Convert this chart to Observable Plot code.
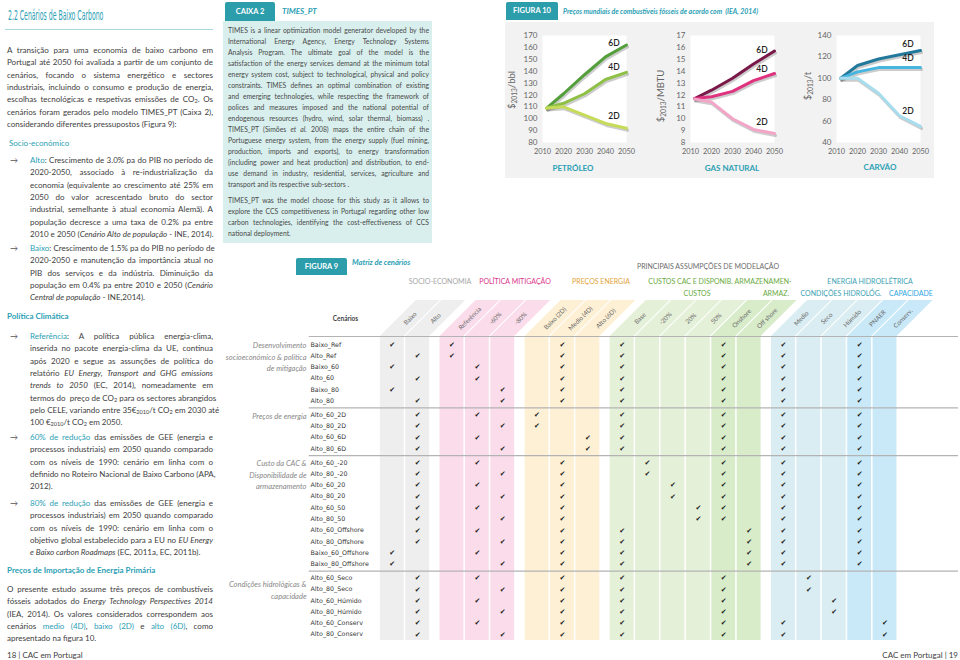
<!DOCTYPE html>
<html><head><meta charset="utf-8">
<script src="https://cdn.jsdelivr.net/npm/d3@7"></script>
<script src="https://cdn.jsdelivr.net/npm/@observablehq/plot@0.6"></script>
<style>
body{margin:0;background:#fff;}
#page{position:relative;width:960px;height:660px;overflow:hidden;font-family:Lato,"Noto Sans",sans-serif;color:#404040;background:#fff;}
.abs{position:absolute;white-space:nowrap;}
.ln{position:absolute;text-align:justify;white-space:nowrap;}
.t{color:#2ba0b4;}
i{font-style:italic;}
sub{font-size:70%;vertical-align:-0.25em;line-height:0;}
.tab{position:absolute;background:#2b9dab;color:#fff;font-weight:bold;font-size:7.5px;text-align:center;border-radius:2px 2px 0 0;}
.plotbox{position:absolute;}
</style></head>
<body><div id="page"></div>
<script>
// ---------- DATA: Figura 10 ----------
const years = [2012, 2020, 2030, 2040, 2050];
const scenarios = ["6D", "4D", "2D"];
const petroleo6D = [109, 121, 137, 152, 162];
const petroleo4D = [109, 113, 121, 133, 139];
const petroleo2D = [109, 110, 103, 96, 92];
const gas6D = [11.7, 12.4, 13.4, 14.6, 15.7];
const gas4D = [11.7, 11.85, 12.3, 13.2, 13.8];
const gas2D = [11.65, 11.4, 10.0, 9.1, 8.75];
const carvao6D = [100, 112, 118, 122, 126];
const carvao4D = [100, 106, 110, 110, 110];
const carvao2D = [100, 100, 86, 65, 55];
const xTicks = [2010, 2020, 2030, 2040, 2050];
const petroleoTicks = [80, 90, 100, 110, 120, 130, 140, 150, 160, 170];
const gasTicks = [8, 9, 10, 11, 12, 13, 14, 15, 16, 17];
const carvaoTicks = [40, 60, 80, 100, 120, 140];

// ---------- DATA: Figura 9 ----------
const columns = ["Baixo", "Alto", "Referência", "-60%", "-80%", "Baixo (2D)", "Medio (4D)", "Alto (6D)",
  "Base", "-20%", "20%", "50%", "Onshore", "Off shore", "Medio", "Seco", "Húmido", "PNAER", "Conserv."];
const columnGroup = [0, 0, 1, 1, 1, 2, 2, 2, 3, 3, 3, 3, 3, 3, 4, 4, 4, 4, 4];
const scenarioNames = ["Baixo_Ref", "Alto_Ref", "Baixo_60", "Alto_60", "Baixo_80", "Alto_80",
  "Alto_60_2D", "Alto_80_2D", "Alto_60_6D", "Alto_80_6D",
  "Alto_60_-20", "Alto_80_-20", "Alto_60_20", "Alto_80_20", "Alto_60_50", "Alto_80_50",
  "Alto_60_Offshore", "Alto_80_Offshore", "Baixo_60_Offshore", "Baixo_80_Offshore",
  "Alto_60_Seco", "Alto_80_Seco", "Alto_60_Húmido", "Alto_80_Húmido", "Alto_60_Conserv", "Alto_80_Conserv"];
const scenarioGroup = [0,0,0,0,0,0, 1,1,1,1, 2,2,2,2,2,2,2,2,2,2, 3,3,3,3,3,3];
const rowGroupLabels = ["Desenvolvimento\nsocioeconómico & política\nde mitigação", "Preços de energia",
  "Custo da CAC &\nDisponibilidade de\narmazenamento", "Condições hidrológicas &\ncapacidade"];
const rowGroupCenter = [1, 6, 11, 21];
const checks = [
  [0,2,6,8,12,14,17],[1,2,6,8,12,14,17],[0,3,6,8,12,14,17],[1,3,6,8,12,14,17],[0,4,6,8,12,14,17],[1,4,6,8,12,14,17],
  [1,3,5,8,12,14,17],[1,4,5,8,12,14,17],[1,3,7,8,12,14,17],[1,4,7,8,12,14,17],
  [1,3,6,9,12,14,17],[1,4,6,9,12,14,17],[1,3,6,10,12,14,17],[1,4,6,10,12,14,17],[1,3,6,11,12,14,17],[1,4,6,11,12,14,17],
  [1,3,6,8,13,14,17],[1,4,6,8,13,14,17],[0,3,6,8,13,14,17],[0,4,6,8,13,14,17],
  [1,3,6,8,12,15],[1,4,6,8,12,15],[1,3,6,8,12,16],[1,4,6,8,12,16],[1,3,6,8,12,14,18],[1,4,6,8,12,14,18]
];

// ---------- helpers ----------
const page = document.getElementById("page");
function put(html, x, y, style = {}, anchor = "start", lh = 10) {
  const d = document.createElement("div");
  d.className = "abs"; d.innerHTML = html;
  Object.assign(d.style, {left: x + "px", top: (y - lh / 2) + "px", lineHeight: lh + "px"}, style);
  if (anchor === "middle") d.style.transform = "translateX(-50%)";
  if (anchor === "end") d.style.transform = "translateX(-100%)";
  page.appendChild(d); return d;
}
function para(lines, x, y, w, lh, style = {}) {
  lines.forEach((l, i) => {
    const d = document.createElement("div");
    d.className = "ln"; d.innerHTML = l;
    Object.assign(d.style, {left: x + "px", top: (y + i * lh - lh / 2) + "px", width: w + "px",
      height: lh + "px", lineHeight: lh + "px", textAlignLast: i === lines.length - 1 ? "left" : "justify"}, style);
    page.appendChild(d);
  });
}
function box(x, y, w, h, style) {
  const d = document.createElement("div");
  Object.assign(d.style, {position: "absolute", left: x + "px", top: y + "px", width: w + "px", height: h + "px"}, style);
  page.appendChild(d); return d;
}
function place(node, x, y) {
  const w = document.createElement("div"); w.className = "plotbox";
  w.style.left = x + "px"; w.style.top = y + "px"; w.appendChild(node); page.appendChild(w);
}

// ---------- left column ----------
put("2.2 Cenários de Baixo Carbono", 8, 15, {fontFamily: "'DejaVu Sans Condensed','DejaVu Sans',sans-serif", fontSize: "14px", color: "#2ba0b4", transformOrigin: "left center", transform: "scaleX(0.49)"}, "start", 16);
box(5, 29, 208, 1, {background: "#a9d8df"});
const fs = {fontSize: "8px"};
para(["A transição para uma economia de baixo carbono em",
  "Portugal até 2050 foi avaliada a partir de um conjunto de",
  "cenários, focando o sistema energético e sectores",
  "industriais, incluindo o consumo e produção de energia,",
  "escolhas tecnológicas e respetivas emissões de CO<sub>2</sub>. Os",
  "cenários foram gerados pelo modelo TIMES_PT (Caixa 2),",
  "considerando diferentes pressupostos (Figura 9):"], 7, 50, 206, 12.35, fs);
put("Socio-económico", 9, 143, {fontSize: "8px", color: "#2ba0b4"});
const arrow = {fontSize: "8px", color: "#555"};
put("→", 10, 160, arrow);
para(["<span class='t'>Alto</span>: Crescimento de 3.0% pa do PIB no período de",
  "2020-2050, associado à re-industrialização da",
  "economia (equivalente ao crescimento até 25% em",
  "2050 do valor acrescentado bruto do sector",
  "industrial, semelhante à atual economia Alemã). A",
  "população decresce a uma taxa de 0.2% pa entre",
  "2010 e 2050 (<i>Cenário Alto de população</i> - INE, 2014)."], 30, 160, 183, 12.35, fs);
put("→", 10, 248, arrow);
para(["<span class='t'>Baixo</span>: Crescimento de 1.5% pa do PIB no período de",
  "2020-2050 e manutenção da importância atual no",
  "PIB dos serviços e da indústria. Diminuição da",
  "população em 0.4% pa entre 2010 e 2050 (<i>Cenário</i>",
  "<i>Central de população</i> - INE,2014)."], 30, 248, 183, 12.35, fs);
put("Política Climática", 7, 316, {fontSize: "8px", color: "#2ba0b4", fontWeight: "bold"});
put("→", 10, 336, arrow);
para(["<span class='t'>Referência</span>: A política pública energia-clima,",
  "inserida no pacote energia-clima da UE, continua",
  "após 2020 e segue as assunções de política do",
  "relatório <i>EU Energy, Transport and GHG emissions</i>",
  "<i>trends to 2050</i> (EC, 2014), nomeadamente em",
  "termos do&nbsp; preço de CO<sub>2</sub> para os sectores abrangidos",
  "pelo CELE, variando entre 35€<sub>2010</sub>/t CO<sub>2</sub> em 2030 até",
  "100 €<sub>2010</sub>/t CO<sub>2</sub> em 2050."], 30, 336, 183, 12.35, fs);
put("→", 10, 437, arrow);
para(["<span class='t'>60% de redução</span> das emissões de GEE (energia e",
  "processos industriais) em 2050 quando comparado",
  "com os níveis de 1990: cenário em linha com o",
  "definido no Roteiro Nacional de Baixo Carbono (APA,",
  "2012)."], 30, 437, 183, 12.35, fs);
put("→", 10, 503, arrow);
para(["<span class='t'>80% de redução</span> das emissões de GEE (energia e",
  "processos industriais) em 2050 quando comparado",
  "com os níveis de 1990: cenário em linha com o",
  "objetivo global estabelecido para a EU no <i>EU Energy</i>",
  "<i>e Baixo carbon Roadmaps</i> (EC, 2011a, EC, 2011b)."], 30, 503, 183, 12.35, fs);
put("Preços de Importação de Energia Primária", 7, 570, {fontSize: "8px", color: "#2ba0b4", fontWeight: "bold"});
para(["O presente estudo assume três preços de combustíveis",
  "fósseis adotados do <i>Energy Technology Perspectives 2014</i>",
  "(IEA, 2014). Os valores considerados correspondem aos",
  "cenários <span class='t'>medio (4D)</span>, <span class='t'>baixo (2D)</span> e <span class='t'>alto (6D)</span>, como",
  "apresentado na figura 10."], 7, 589, 206, 12.35, fs);
put("18 | CAC em Portugal", 7, 655, {fontSize: "8px"});
put("CAC em Portugal | 19", 958, 655, {fontSize: "8px"}, "end");

// ---------- Caixa 2 ----------
const tab1 = box(225, 2, 50, 19, {}); tab1.className = "tab"; tab1.style.lineHeight = "19px"; tab1.textContent = "CAIXA 2";
put("TIMES_PT", 282, 11, {fontSize: "8px", color: "#2ba0b4", fontStyle: "italic", fontWeight: "bold"});
box(223, 21, 209, 222, {background: "#d8efed"});
const cs = {fontSize: "6.8px", color: "#4a4a4a"};
para(["TIMES is a linear optimization model generator developed by the",
  "International Energy Agency, Energy Technology Systems",
  "Analysis Program. The ultimate goal of the model is the",
  "satisfaction of the energy services demand at the minimum total",
  "energy system cost, subject to technological, physical and policy",
  "constraints. TIMES defines an optimal combination of existing",
  "and emerging technologies, while respecting the framework of",
  "polices and measures imposed and the national potential of",
  "endogenous resources (hydro, wind, solar thermal, biomass) .",
  "TIMES_PT (Simões <i>et al.</i> 2008) maps the entire chain of the",
  "Portuguese energy system, from the energy supply (fuel mining,",
  "production, imports and exports), to energy transformation",
  "(including power and heat production) and distribution, to end-",
  "use demand in industry, residential, services, agriculture and",
  "transport and its respective sub-sectors ."], 228, 30, 201, 11.0, cs);
para(["TIMES_PT was the model choose for this study as it allows to",
  "explore the CCS competitiveness in Portugal regarding other low",
  "carbon technologies, identifying the cost-effectiveness of CCS",
  "national deployment."], 228, 200, 201, 11.0, cs);

// ---------- Figura 10 ----------
const tab2 = box(506, 2, 52, 18, {}); tab2.className = "tab"; tab2.style.lineHeight = "18px"; tab2.textContent = "FIGURA 10";
put("Preços mundiais de combustíveis fósseis de acordo com&nbsp; (IEA, 2014)", 563, 11, {fontSize: "6.9px", color: "#2ba0b4", fontStyle: "italic", fontWeight: "bold"});
box(505, 22, 429, 156, {background: "#f2f2f2"});

function panel(series, colors, yDomain, yTicks) {
  const data = series.flatMap((vals, k) => vals.map((v, i) => ({year: years[i], value: v, s: scenarios[k]})));
  const labels = series.map((vals, k) => ({year: 2044, value: vals[3] + (vals[4] - vals[3]) * 0.4, s: scenarios[k]}));
  return Plot.plot({
    width: 136, height: 140, marginLeft: 37, marginRight: 15, marginTop: 13, marginBottom: 20,
    style: {background: "transparent", fontFamily: "Lato, sans-serif", fontSize: "8px", color: "#666", overflow: "visible"},
    x: {domain: [2010, 2050], label: null},
    y: {domain: yDomain, label: null},
    color: {domain: scenarios, range: colors},
    marks: [
      Plot.frame({fill: "white", stroke: null}),
      Plot.axisX({ticks: xTicks, tickSize: 0, tickPadding: 6, tickFormat: d => String(d), label: null, fontSize: 7.4}),
      Plot.axisY({ticks: yTicks, tickSize: 0, tickPadding: 5, label: null, fontSize: 8}),
      Plot.line(data, {x: "year", y: "value", z: "s", stroke: "#555", strokeWidth: 3, strokeOpacity: 0.3, dx: 1, dy: 2}),
      Plot.line(data, {x: "year", y: "value", z: "s", stroke: "s", strokeWidth: 3}),
      Plot.text(labels, {x: "year", y: "value", text: "s", dy: -9, fill: "#222", fontSize: 8.5, fontWeight: "600"})
    ]
  });
}
place(panel([petroleo6D, petroleo4D, petroleo2D], ["#559e3c", "#8fc046", "#c6dc58"], [80, 170], petroleoTicks), 505, 22);
place(panel([gas6D, gas4D, gas2D], ["#7a1949", "#df327f", "#f3a5c8"], [8, 17], gasTicks), 653, 22);
place(panel([carvao6D, carvao4D, carvao2D], ["#23799c", "#46b6e1", "#a8ddee"], [40, 140], carvaoTicks), 799, 22);
function ylab(html, x, y) {
  const d = put(html, x, y, {fontSize: "9.5px", color: "#666"}, "start", 12);
  d.style.transform = "translate(-50%,0) rotate(-90deg)";
}
ylab("$<sub>2013</sub>/bbl", 512, 90);
ylab("$<sub>2013</sub>/MBTU", 661, 96);
ylab("$<sub>2013</sub>/t", 808, 86);
const catStyle = {fontSize: "8px", color: "#2ba0b4", fontWeight: "bold"};
put("PETRÓLEO", 573, 168, catStyle, "middle");
put("GAS NATURAL", 732, 168, catStyle, "middle");
put("CARVÃO", 880, 167, catStyle, "middle");

// ---------- Figura 9 ----------
const tab3 = box(296, 258, 51, 17, {}); tab3.className = "tab"; tab3.style.lineHeight = "17px"; tab3.textContent = "FIGURA 9";
put("Matriz de cenários", 352, 263, {fontSize: "7.5px", color: "#2ba0b4", fontStyle: "italic", fontWeight: "bold"});
const hs = (c) => ({fontSize: "7px", color: c});
put("PRINCIPAIS ASSUMPÇÕES DE MODELAÇÃO", 708, 266, hs("#6d6d6d"), "middle");
put("SOCIO-ECONOMIA", 440, 281, hs("#a6a6a6"), "middle");
put("POLÍTICA MITIGAÇÃO", 515, 281, hs("#d8388b"), "middle");
put("PREÇOS ENERGIA", 601, 281, hs("#e3a43a"), "middle");
put("CUSTOS CAC E DISPONIB. ARMAZENAMEN-", 720, 281, hs("#6aaa3e"), "middle");
put("CUSTOS", 697, 293, hs("#6aaa3e"), "middle");
put("ARMAZ.", 776, 293, hs("#6aaa3e"), "middle");
put("ENERGIA HIDROELÉTRICA", 870, 281, hs("#3aa1b3"), "middle");
put("CONDIÇÕES HIDROLÓG.", 841, 293, hs("#3aa1b3"), "middle");
put("CAPACIDADE", 911, 293, hs("#2ea6e0"), "middle");

const colGap = 0.35, rowGap = 0.24;
const colPos = columns.map((c, i) => i + colGap * columnGroup[i]);
const rowPos = scenarioNames.map((s, i) => i + rowGap * scenarioGroup[i]);
const XU = 25.4, YU = 11.27, TW = 760, TH = 350;
const X0 = -7.55, Y0 = -4.35;
const headTop = -3.91, headBot = -0.71, bodyBot = 26.26;
const slant = (headBot - headTop) * YU / XU;
const groupFill = ["#eeeeee", "#fbdcea", "#fdf0d4", "#e5f0d8", "#d9edf2"];
const colFill = i => (i === 12 || i === 13) ? "#d8ecca" : (i >= 17 ? "#c9e9f9" : groupFill[columnGroup[i]]);
const colData = columns.map((name, i) => ({i, name, x: colPos[i]}));
const headData = colData.flatMap(d => [
  {i: d.i, y: headBot, x1: d.x - 0.47, x2: d.x + 0.47},
  {i: d.i, y: headTop, x1: d.x - 0.47 + slant, x2: d.x + 0.47 + slant}]);
const checkData = checks.flatMap((cols, r) => cols.map(c => ({r, c})));
const sepY = [headBot];
for (let r = 1; r < scenarioNames.length; r++) if (scenarioGroup[r] !== scenarioGroup[r - 1]) sepY.push((rowPos[r] + rowPos[r - 1]) / 2);
const labelX = X0 + 110 / XU, groupX = X0 + 106 / XU, lineEnd = X0 + 758 / XU;
const table = Plot.plot({
  width: TW, height: TH, margin: 0,
  style: {background: "transparent", overflow: "visible"},
  x: {domain: [X0, X0 + TW / XU], range: [0, TW], axis: null},
  y: {domain: [Y0, Y0 + TH / YU], range: [0, TH], axis: null},
  color: {type: "identity"},
  marks: [
    Plot.rect(colData, {x1: d => d.x - 0.47, x2: d => d.x + 0.47, y1: headBot, y2: bodyBot, fill: d => colFill(d.i)}),
    Plot.areaX(headData, {x1: "x1", x2: "x2", y: "y", z: "i", fill: d => colFill(d.i)}),
    Plot.text(colData, {x: d => d.x + slant / 2, y: (headTop + headBot) / 2, text: "name", rotate: -45, fontSize: 6.3, fill: "#6a6a6a", fontFamily: "Lato, sans-serif"}),
    Plot.ruleY(sepY, {x1: labelX - 0.05, x2: lineEnd, stroke: "#b3b3b3", strokeWidth: 1.2}),
    Plot.text(["Cenários"], {x: labelX + 35 / XU, y: (headTop + headBot) / 2, text: d => d, fontSize: 6.5, fontWeight: "bold", fill: "#444", fontFamily: "Lato, sans-serif"}),
    Plot.text(scenarioNames, {x: labelX, y: (d, i) => rowPos[i], text: d => d, textAnchor: "start", fontSize: 6.3, fill: "#333", fontFamily: "'DejaVu Sans', sans-serif"}),
    Plot.text(rowGroupLabels, {x: groupX, y: (d, i) => rowPos[rowGroupCenter[i]], text: d => d, textAnchor: "end", lineHeight: 1.55, fontSize: 7.5, fontStyle: "italic", fill: "#888", fontFamily: "Lato, sans-serif"}),
    Plot.text(checkData, {x: d => colPos[d.c], y: d => rowPos[d.r], text: () => "✔", fontSize: 7, fill: "#222", fontFamily: "'DejaVu Sans', sans-serif"})
  ]
});
place(table, 200, 295);
</script></body></html>
